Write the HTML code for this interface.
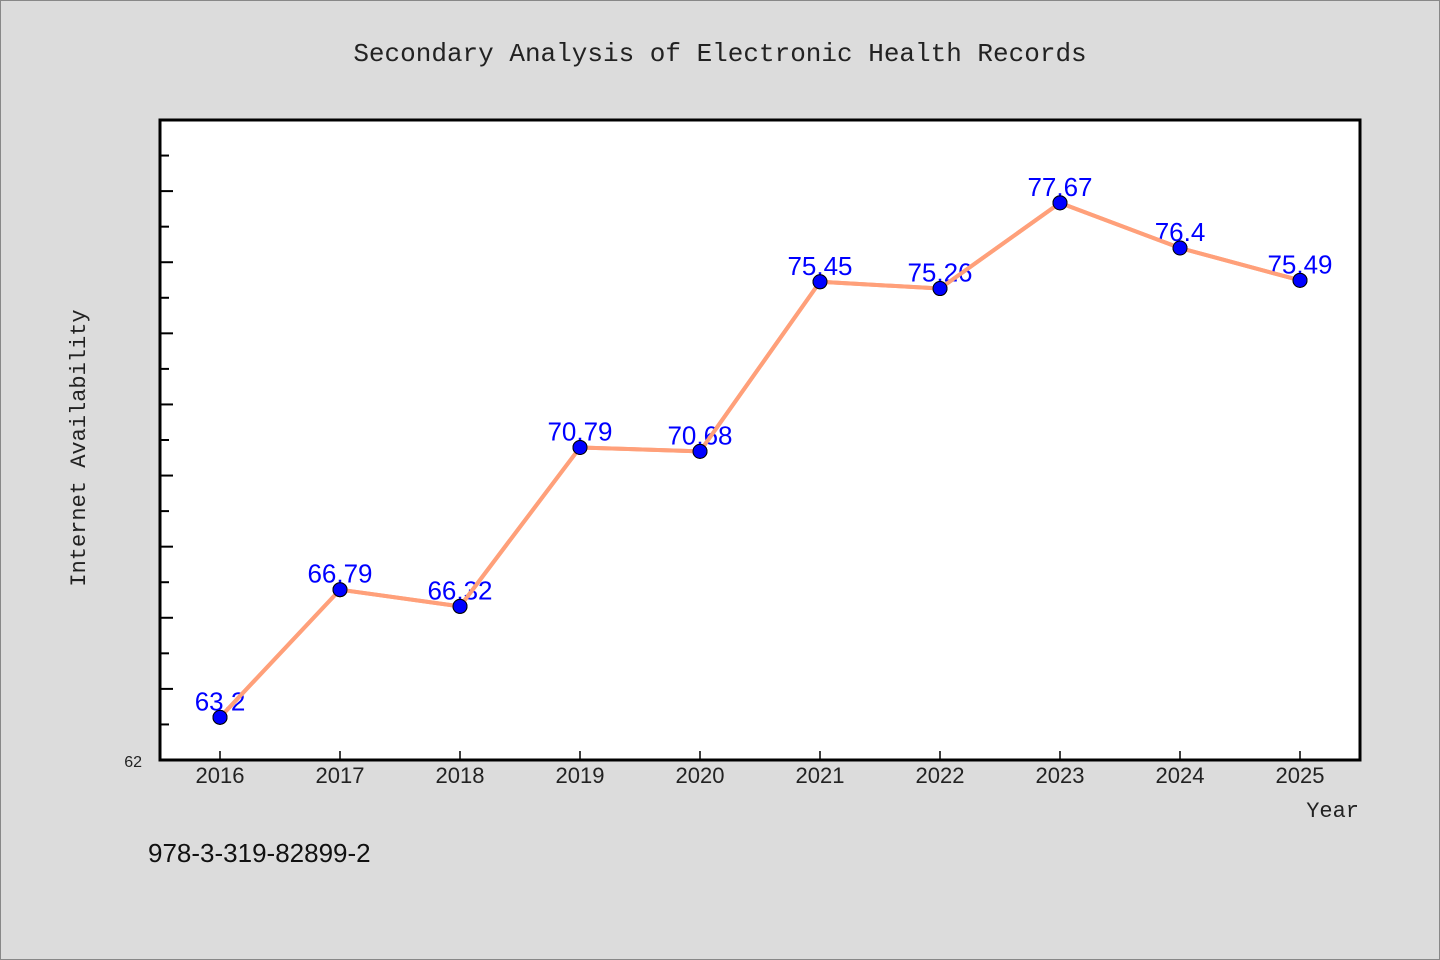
<!DOCTYPE html>
<html><head><meta charset="utf-8"><style>
html,body{margin:0;padding:0;background:#dcdcdc;}
svg{display:block;font-family:"Liberation Mono","DejaVu Sans Mono",monospace;}
</style></head><body>
<svg id="chart" width="1440" height="960">
<rect x="0.5" y="0.5" width="1439" height="959" fill="#dcdcdc" stroke="#888"/>
<text x="720" y="61" text-anchor="middle" font-size="26" fill="#222">Secondary Analysis of Electronic Health Records</text>
<rect x="160" y="120" width="1200" height="640" fill="#fff"/>
<g id="ticks"></g>
<g id="series"></g>
<rect x="160" y="120" width="1200" height="640" fill="none" stroke="#000" stroke-width="3"/>
<text x="142" y="767" text-anchor="end" font-size="16" fill="#222" font-family="Liberation Sans, sans-serif">62</text>
<text transform="translate(85,448) rotate(-90)" text-anchor="middle" font-size="22" fill="#222">Internet Availability</text>
<text x="1359" y="817" text-anchor="end" font-size="22" fill="#222">Year</text>
<text x="148" y="862" font-size="26" fill="#111" font-family="Liberation Sans, sans-serif">978-3-319-82899-2</text>
</svg>
<script>
const categories=["2016","2017","2018","2019","2020","2021","2022","2023","2024","2025"];
const values=[63.2,66.79,66.32,70.79,70.68,75.45,75.26,77.67,76.4,75.49];
const labels=["63.2","66.79","66.32","70.79","70.68","75.45","75.26","77.67","76.4","75.49"];
const yMin=62,yMax=80;
const NS="http://www.w3.org/2000/svg";
const L=160,R=1360,T=120,B=760;
const band=(R-L)/categories.length;
function x(i){return L+band*(i+0.5);}
function y(v){return B-(v-yMin)/(yMax-yMin)*(B-T);}
function mk(tag,attrs,parent){const e=document.createElementNS(NS,tag);for(const k in attrs)e.setAttribute(k,attrs[k]);parent.appendChild(e);return e;}
const tg=document.getElementById('ticks'),sg=document.getElementById('series');
for(let v=yMin+1;v<yMax;v++){
  const t=mk('line',{x1:L,x2:L+((v%2===0)?13:9),y1:y(v),y2:y(v),stroke:'#000','stroke-width':2},tg);
  
  
}
categories.forEach((c,i)=>{
  const t=mk('line',{x1:x(i),x2:x(i),y1:B-9,y2:B,stroke:'#000','stroke-width':1.5},tg);
  
  
  const lb=mk('text',{x:x(i),y:783,'text-anchor':'middle','font-size':22,fill:'#222','font-family':'Liberation Sans, sans-serif'},tg);
  lb.textContent=c;
  
  
});
const pts=values.map((v,i)=>x(i)+','+y(v)).join(' ');
const line=mk('polyline',{points:pts,fill:'none',stroke:'#ffa07a','stroke-width':4,'stroke-linejoin':'round'},sg);


values.forEach((v,i)=>{
  const c=mk('circle',{cx:x(i),cy:y(v),r:7,fill:'#0000ff',stroke:'#000','stroke-width':1},sg);
  
  
});
values.forEach((v,i)=>{
  const t=mk('text',{x:x(i),y:y(v)-7,'text-anchor':'middle','font-size':26,fill:'#0000ff','font-family':'Liberation Sans, sans-serif'},sg);
  t.textContent=labels[i];
  
  
});
// redraw line over labels' dot area like reference
sg.appendChild(line.cloneNode());


values.forEach((v,i)=>{
  const c=mk('circle',{cx:x(i),cy:y(v),r:7,fill:'#0000ff',stroke:'#000','stroke-width':1},sg);
  
  
});
</script>
</body></html>
